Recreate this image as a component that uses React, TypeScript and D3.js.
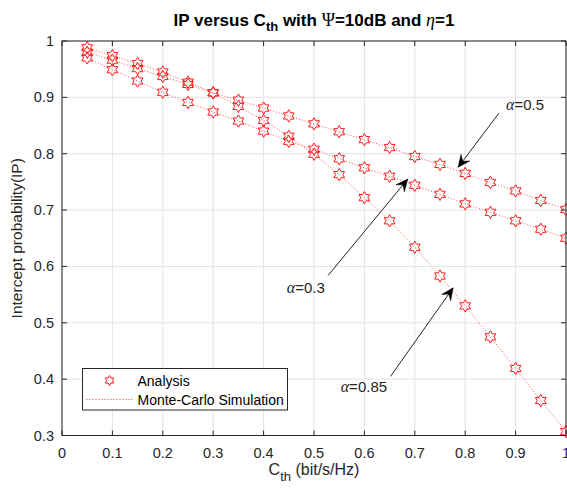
import React from "react";
import * as d3 from "d3";

const W = 567, H = 489;
const cth = [0.05,0.1,0.15,0.2,0.25,0.3,0.35,0.4,0.45,0.5,0.55,0.6,0.65,0.7,0.75,0.8,0.85,0.9,0.95,1.0];
const ipAlpha05 = [0.980,0.966,0.951,0.937,0.923,0.908,0.895,0.881,0.867,0.853,0.839,0.825,0.811,0.795,0.781,0.765,0.749,0.734,0.717,0.701];
const ipAlpha03 = [0.970,0.949,0.929,0.909,0.891,0.874,0.858,0.840,0.822,0.808,0.791,0.775,0.760,0.744,0.728,0.711,0.696,0.681,0.666,0.650];
const ipAlpha085 = [0.988,0.974,0.960,0.945,0.927,0.908,0.884,0.859,0.831,0.799,0.763,0.722,0.681,0.634,0.583,0.530,0.475,0.419,0.362,0.307];
const series = [ipAlpha05, ipAlpha03, ipAlpha085];
const xTicks = [0,0.1,0.2,0.3,0.4,0.5,0.6,0.7,0.8,0.9,1];
const yTicks = [0.3,0.4,0.5,0.6,0.7,0.8,0.9,1];
const annotations = [
  { label: "0.5", tx: 0.881, ty: 0.878, x0: 0.867, y0: 0.872, x1: 0.786, y1: 0.776 },
  { label: "0.3", tx: 0.446, ty: 0.553, x0: 0.528, y0: 0.584, x1: 0.686, y1: 0.755 },
  { label: "0.85", tx: 0.553, ty: 0.377, x0: 0.652, y0: 0.405, x1: 0.776, y1: 0.562 },
];

const x = d3.scaleLinear().domain([0, 1]).range([62, 566]);
const y = d3.scaleLinear().domain([0.3, 1]).range([435.5, 41]);

function hexagram(cx: number, cy: number, R: number) {
  const r = R / Math.sqrt(3);
  const pts: [number, number][] = [];
  for (let i = 0; i < 12; i++) {
    const a = -Math.PI / 2 + (i * Math.PI) / 6;
    const rr = i % 2 === 0 ? R : r;
    pts.push([cx + rr * Math.cos(a), cy + rr * Math.sin(a)]);
  }
  return "M" + pts.map((p) => p.join(",")).join("L") + "Z";
}

function arrowHead(x0: number, y0: number, x1: number, y1: number) {
  const dx = x1 - x0, dy = y1 - y0;
  const L = Math.hypot(dx, dy);
  const ux = dx / L, uy = dy / L;
  const px = -uy, py = ux;
  const len = 12, wid = 5.5, notch = 7.5;
  const b1 = [x1 - ux * len + px * wid, y1 - uy * len + py * wid];
  const b2 = [x1 - ux * len - px * wid, y1 - uy * len - py * wid];
  const n = [x1 - ux * notch, y1 - uy * notch];
  return `M${x1},${y1}L${b1[0]},${b1[1]}L${n[0]},${n[1]}L${b2[0]},${b2[1]}Z`;
}

export default function App() {
  const line = d3.line<number>().x((_, i) => x(cth[i])).y((d) => y(d));
  const font = "Liberation Sans, Arial, sans-serif";
  const serif = "Liberation Serif, Times New Roman, serif";
  const [xl, xr] = x.range();
  const [yb, yt] = y.range();
  return (
    <svg width={W} height={H} style={{ position: "absolute", left: 0, top: 0, background: "#fff" }} fontFamily={font}>
      <rect x={0} y={0} width={W} height={H} fill="#fff" />
      {xTicks.map((t) => (
        <line key={"gx" + t} x1={x(t)} x2={x(t)} y1={yb} y2={yt} stroke="#e3e3e3" strokeWidth={1} />
      ))}
      {yTicks.map((t) => (
        <line key={"gy" + t} x1={xl} x2={xr} y1={y(t)} y2={y(t)} stroke="#e3e3e3" strokeWidth={1} />
      ))}
      {series.map((s, k) => (
        <path key={"l" + k} d={line(s) || ""} fill="none" stroke="#ff3030" strokeWidth={1} strokeDasharray="1,2" opacity={0.85} />
      ))}
      {series.map((s, k) =>
        s.map((v, i) => (
          <path key={"m" + k + "-" + i} d={hexagram(x(cth[i]), y(v), 6.2)} fill="none" stroke="#ff1a1a" strokeWidth={1} />
        ))
      )}
      <rect x={xl} y={yt} width={xr - xl} height={yb - yt} fill="none" stroke="#262626" strokeWidth={1} />
      {xTicks.map((t) => (
        <g key={"tx" + t}>
          <line x1={x(t)} x2={x(t)} y1={yb} y2={yb - 5} stroke="#262626" />
          <line x1={x(t)} x2={x(t)} y1={yt} y2={yt + 5} stroke="#262626" />
          <text x={x(t)} y={yb + 22} textAnchor="middle" fontSize={14.5} fill="#262626">{String(t)}</text>
        </g>
      ))}
      {yTicks.map((t) => (
        <g key={"ty" + t}>
          <line x1={xl} x2={xl + 5} y1={y(t)} y2={y(t)} stroke="#262626" />
          <line x1={xr} x2={xr - 5} y1={y(t)} y2={y(t)} stroke="#262626" />
          <text x={xl - 8} y={y(t) + 5} textAnchor="end" fontSize={14.5} fill="#262626">{String(t)}</text>
        </g>
      ))}
      <text x={314} y={26} textAnchor="middle" fontSize={17} fontWeight="bold" fill="#000">
        IP versus C<tspan dy={5} fontSize={13}>th</tspan>
        <tspan dy={-5}> with </tspan>
        <tspan fontFamily={serif} fontWeight="normal" fontSize={18}>Ψ</tspan>
        <tspan>=10dB and </tspan>
        <tspan fontFamily={serif} fontStyle="italic" fontWeight="normal" fontSize={18}>η</tspan>
        <tspan>=1</tspan>
      </text>
      <text x={314} y={475} textAnchor="middle" fontSize={16} fill="#262626">
        C<tspan dy={6} fontSize={13}>th</tspan><tspan dy={-6}> (bit/s/Hz)</tspan>
      </text>
      <text transform={`translate(22,${(yt + yb) / 2}) rotate(-90)`} textAnchor="middle" fontSize={15.5} fill="#262626">
        Intercept probability(IP)
      </text>
      {annotations.map((a) => (
        <g key={"a" + a.label}>
          <line x1={x(a.x0)} y1={y(a.y0)} x2={x(a.x1)} y2={y(a.y1)} stroke="#262626" strokeWidth={1} />
          <path d={arrowHead(x(a.x0), y(a.y0), x(a.x1), y(a.y1))} fill="#000" stroke="#000" strokeWidth={0.5} />
          <text x={x(a.tx)} y={y(a.ty)} fontSize={15} fill="#262626">
            <tspan fontFamily={serif} fontStyle="italic" fontSize={16}>α</tspan>
            <tspan>={a.label}</tspan>
          </text>
        </g>
      ))}
      <rect x={82.5} y={368.5} width={205} height={41.5} fill="#fff" stroke="#262626" strokeWidth={1} />
      <path d={hexagram(109.5, 380.5, 5)} fill="none" stroke="#ff1a1a" strokeWidth={1} />
      <text x={137.5} y={385.5} fontSize={14} fill="#000">Analysis</text>
      <line x1={86.5} x2={132.5} y1={399.5} y2={399.5} stroke="#ff3030" strokeWidth={1} strokeDasharray="1,2" />
      <text x={137.5} y={404.5} fontSize={14} fill="#000">Monte-Carlo Simulation</text>
    </svg>
  );
}
